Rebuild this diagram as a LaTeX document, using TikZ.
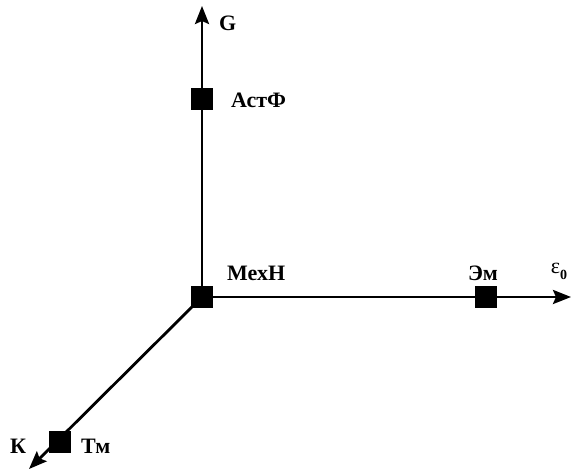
\documentclass[tikz,border=0pt]{standalone}
\usepackage{fontspec}
\setmainfont{Liberation Serif}
\usetikzlibrary{arrows.meta}
\begin{document}
\begin{tikzpicture}[x=1pt,y=-1pt,
  axis/.style={line width=2.8pt,-{Stealth[length=18pt,width=14pt,inset=3pt]}},
  sq/.style={fill=black,minimum size=22pt,inner sep=0pt},
  lbl/.style={font=\fontsize{22}{24}\selectfont\bfseries,inner sep=0pt}]
\useasboundingbox (0,0) rectangle (571,470);
\coordinate (gtip) at (202,6);
\coordinate (etip) at (571,297);
\coordinate (ktip) at (29,469);
\node[sq] (o) at (202,297) {};
\draw[axis] (o.center) -- (gtip);
\draw[axis] (o.center) -- (etip);
\draw[axis] (o.center) -- (ktip);
\node[sq] (o2) at (202,297) {};
\node[sq] (ast) at (202,99) {};
\node[sq] (em) at (486,297) {};
\node[sq] (tm) at (60,442) {};
\node[lbl,anchor=west] (lg) at (219,23) {G};
\node[lbl,anchor=west] (last) at (231,100) {АстФ};
\node[lbl,anchor=west] (lmeh) at (227,273) {МехН};
\node[lbl] (lem) at (483,273) {Эм};
\node[inner sep=0pt,font=\fontsize{22}{24}\selectfont] (leps) at (559,271) {ε\raisebox{-6pt}{\fontsize{14}{14}\selectfont\bfseries 0}};
\node[lbl] (lk) at (18,446) {К};
\node[lbl,anchor=west] (ltm) at (81,446) {Тм};
\end{tikzpicture}
\end{document}
